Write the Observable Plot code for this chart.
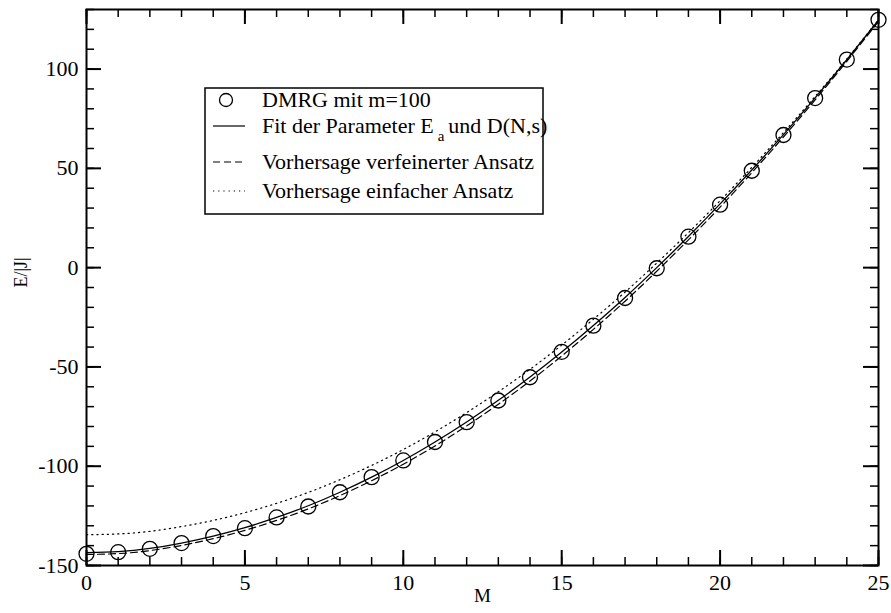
<!DOCTYPE html>
<html><head><meta charset="utf-8">
<script src="https://cdn.jsdelivr.net/npm/d3@7"></script>
<script src="https://cdn.jsdelivr.net/npm/@observablehq/plot@0.6"></script>
<style>
body{margin:0;background:#fff;}
#wrap{position:relative;width:891px;height:613px;}
#legend{position:absolute;left:0;top:0;}
</style></head><body><div id="wrap"></div>
<script>
const M = [0,1,2,3,4,5,6,7,8,9,10,11,12,13,14,15,16,17,18,19,20,21,22,23,24,25];
const dmrg = [-144.1,-143.3,-141.6,-138.7,-135.2,-131.2,-125.8,-120.3,-113.1,-105.5,-97.1,-87.8,-77.8,-66.9,-55.2,-42.4,-29.2,-15.3,-0.3,15.6,31.7,48.8,66.8,85.4,104.8,124.8];
const fit = [-143.5,-143.0,-141.4,-138.7,-135.2,-130.9,-125.8,-119.9,-113.1,-105.5,-97.1,-87.8,-77.7,-66.8,-55.1,-42.5,-29.1,-15.0,0.0,15.7,32.1,49.2,67.0,85.5,104.7,124.6];
const refined = [-144.4,-144.0,-142.5,-139.9,-136.5,-132.3,-127.3,-121.5,-114.8,-107.3,-99.0,-89.8,-79.7,-68.8,-57.1,-44.5,-31.1,-16.9,-1.8,14.0,30.5,47.8,65.8,84.5,103.9,124.0];
const simple = [-134.5,-134.1,-132.8,-130.4,-127.3,-123.4,-118.7,-113.2,-106.8,-99.6,-91.6,-82.7,-73.0,-62.5,-51.2,-39.0,-26.0,-12.3,2.3,17.6,33.7,50.5,68.0,86.2,105.1,124.8];
const xTicks = [0,5,10,15,20,25];
const yTicks = [-150,-100,-50,0,50,100];
const xMinor = [0,1,2,3,4,5,6,7,8,9,10,11,12,13,14,15,16,17,18,19,20,21,22,23,24,25];
const yMinor = [-150,-140,-130,-120,-110,-100,-90,-80,-70,-60,-50,-40,-30,-20,-10,0,10,20,30,40,50,60,70,80,90,100,110,120,130];
const legendLabels = ["DMRG mit m=100", "Fit der Parameter E", "Vorhersage verfeinerter Ansatz", "Vorhersage einfacher Ansatz"];
const xLabel = "M", yLabel = "E/|J|";

const rows = M.map((m, i) => ({M: m, dmrg: dmrg[i], fit: fit[i], refined: refined[i], simple: simple[i]}));

const W = 891, H = 613, mL = 86, mR = 13, mT = 9, mB = 48;
const iw = W - mL - mR, ih = H - mT - mB;
const font = "'Liberation Serif', 'Times New Roman', serif";

const chart = Plot.plot({
  width: W, height: H,
  marginLeft: mL, marginRight: mR, marginTop: mT, marginBottom: mB,
  style: {fontFamily: font, fontSize: "22px", background: "white", color: "black", overflow: "visible"},
  x: {domain: [0, 25], label: null},
  y: {domain: [-150, 130], label: null},
  marks: [
    Plot.line(rows, {x: "M", y: "simple", stroke: "black", strokeWidth: 1.2, strokeDasharray: "1.2,4", curve: "natural"}),
    Plot.line(rows, {x: "M", y: "refined", stroke: "black", strokeWidth: 1.2, strokeDasharray: "7,4", curve: "natural"}),
    Plot.line(rows, {x: "M", y: "fit", stroke: "black", strokeWidth: 1.3, curve: "natural"}),
    Plot.dot(rows, {x: "M", y: "dmrg", r: 7.5, stroke: "black", fill: "none", strokeWidth: 1.3}),
    Plot.tickX(xMinor, {x: d => d, insetTop: ih - 8, stroke: "black", strokeWidth: 1.5}),
    Plot.tickX(xMinor, {x: d => d, insetBottom: ih - 8, stroke: "black", strokeWidth: 1.5}),
    Plot.tickX(xTicks, {x: d => d, insetTop: ih - 15, stroke: "black", strokeWidth: 2}),
    Plot.tickX(xTicks, {x: d => d, insetBottom: ih - 15, stroke: "black", strokeWidth: 2}),
    Plot.tickY(yMinor, {y: d => d, insetRight: iw - 8, stroke: "black", strokeWidth: 1.5}),
    Plot.tickY(yMinor, {y: d => d, insetLeft: iw - 8, stroke: "black", strokeWidth: 1.5}),
    Plot.tickY(yTicks, {y: d => d, insetRight: iw - 15, stroke: "black", strokeWidth: 2}),
    Plot.tickY(yTicks, {y: d => d, insetLeft: iw - 15, stroke: "black", strokeWidth: 2}),
    Plot.frame({stroke: "black", strokeWidth: 2}),
    Plot.axisX(xTicks, {tickSize: 0, tickPadding: 9, fontSize: 22, tickFormat: d => String(d), label: null}),
    Plot.axisY(yTicks, {tickSize: 0, tickPadding: 8, fontSize: 22, tickFormat: d => String(d), label: null}),
    Plot.text([xLabel], {frameAnchor: "bottom", dy: 36, fontSize: 19, text: d => d}),
    Plot.text([yLabel], {frameAnchor: "left", dx: -65, rotate: -90, fontSize: 18, text: d => d})
  ]
});
const wrap = document.getElementById("wrap");
wrap.appendChild(chart);

// legend overlay
const lg = d3.select(wrap).append("svg").attr("id", "legend").attr("width", W).attr("height", H)
  .style("font-family", font).style("font-size", "22px");
lg.append("rect").attr("x", 205).attr("y", 88).attr("width", 338).attr("height", 126)
  .attr("fill", "white").attr("stroke", "black").attr("stroke-width", 1.5);
const rowY = [100, 126, 162, 191];
const styles = [null, "none", "7,4", "1.2,4"];
rowY.forEach((cy, i) => {
  if (i === 0) {
    lg.append("circle").attr("cx", 226).attr("cy", cy).attr("r", 6.5).attr("fill", "none").attr("stroke", "black").attr("stroke-width", 1.3);
  } else {
    const l = lg.append("line").attr("x1", 213).attr("x2", 245).attr("y1", cy).attr("y2", cy)
      .attr("stroke", "black").attr("stroke-width", 1.2);
    if (styles[i] !== "none") l.attr("stroke-dasharray", styles[i]);
  }
  const t = lg.append("text").attr("x", 262).attr("y", cy).attr("dy", "0.32em").text(legendLabels[i]);
  if (i === 1) {
    t.append("tspan").attr("dx", 4).attr("dy", 8).style("font-size", "15px").text("a");
    t.append("tspan").attr("dx", 4).attr("dy", -8).text("und D(N,s)");
  }
});
</script></body></html>
